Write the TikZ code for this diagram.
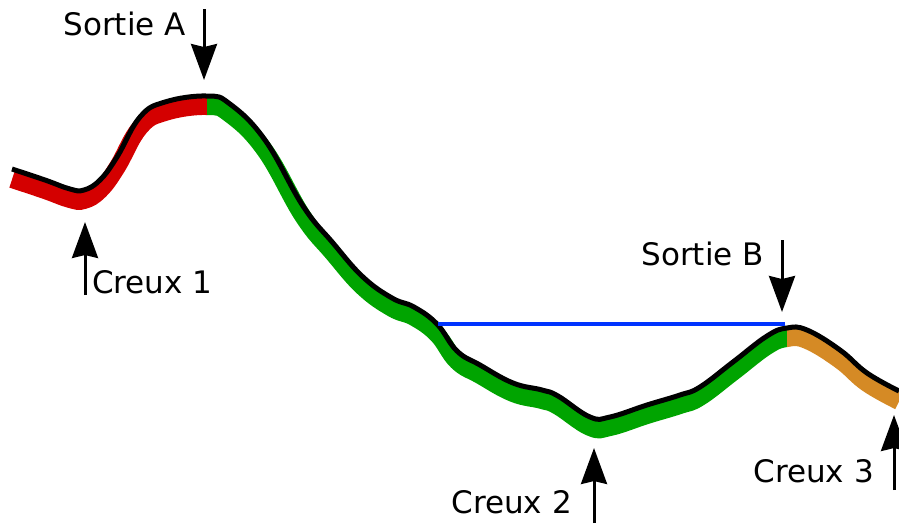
\documentclass[tikz,border=0pt]{standalone}
\usepackage{fontspec}
\setmainfont{DejaVu Sans}
\usetikzlibrary{arrows.meta}

\definecolor{rouge}{HTML}{D40000}
\definecolor{vert}{HTML}{00A400}
\definecolor{orange}{HTML}{D58A25}
\definecolor{bleu}{HTML}{0033FF}

% profil du terrain (en pixels, y vers le bas)
\newcommand{\profil}{plot[smooth, tension=0.7] coordinates {
  (12,169) (45,180) (70,189) (84,190) (100,180) (117,157)
  (140,117) (165,102) (207,96) (230,104) (265,140)
  (303,206) (333,243) (363,277) (392,298) (414,307)
  (437,324) (457,351) (480,365) (513,383) (542,390) (558,396)
  (590,417) (610,417) (647,405) (680,395) (700,387) (733,362)
  (767,336) (787,328) (807,330) (840,350) (867,373) (899,391)}}

\tikzset{
  fleche/.style={line width=3pt, -{Stealth[length=36pt, width=26pt, inset=3pt]}},
  etiquette/.style={inner sep=0pt, font=\fontsize{31}{37}\selectfont}
}

\begin{document}
\begin{tikzpicture}[x=1pt, y=-1pt]
\useasboundingbox (0,0) rectangle (899,523);

% --- Bande de couleur sous le profil ---
\foreach \xa/\xb/\col in {0/207/rouge, 207/787/vert, 787/899/orange}
{
  \begin{scope}
    \clip (\xa,0) rectangle (\xb,523);
    \draw[\col, line width=17pt, shift={(0,10.5)}] \profil;
  \end{scope}
}

% --- Profil ---
\draw[black, line width=5pt, line join=round] \profil;

% --- Niveau d'eau ---
\coordinate (niv1) at (438,324);
\coordinate (niv2) at (785,324);
\draw[bleu, line width=3.5pt] (niv1) -- (niv2);

% --- Fleches et textes ---
\coordinate (sA haut) at (204,9);
\coordinate (sA pointe) at (204,80);
\draw[fleche] (sA haut) -- (sA pointe);
\node[etiquette, anchor=base east] (sortieA) at (186,35) {Sortie A};

\coordinate (c1 bas) at (85,295);
\coordinate (c1 pointe) at (85,222);
\draw[fleche] (c1 bas) -- (c1 pointe);
\node[etiquette, anchor=base west] (creux1) at (92,293) {Creux 1};

\coordinate (sB haut) at (782,240);
\coordinate (sB pointe) at (782,312);
\draw[fleche] (sB haut) -- (sB pointe);
\node[etiquette, anchor=base east] (sortieB) at (764,265) {Sortie B};

\coordinate (c2 bas) at (594,523);
\coordinate (c2 pointe) at (594,448);
\draw[fleche] (c2 bas) -- (c2 pointe);
\node[etiquette, anchor=base east] (creux2) at (572,513) {Creux 2};

\coordinate (c3 bas) at (894,490);
\coordinate (c3 pointe) at (894,415);
\draw[fleche] (c3 bas) -- (c3 pointe);
\node[etiquette, anchor=base east] (creux3) at (874,482) {Creux 3};
\end{tikzpicture}
\end{document}
